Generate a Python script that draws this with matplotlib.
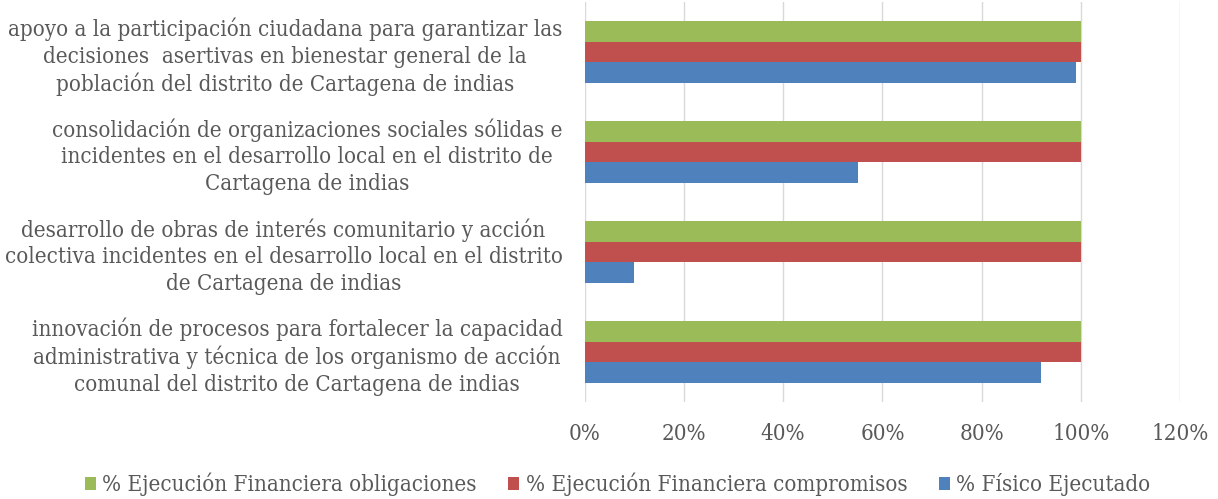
import numpy as np
from matplotlib import pyplot as plt

categorias = [
    "innovación de procesos para fortalecer la capacidad\nadministrativa y técnica de los organismo de acción\ncomunal del distrito de Cartagena de indias",
    "desarrollo de obras de interés comunitario y acción\ncolectiva incidentes en el desarrollo local en el distrito\nde Cartagena de indias",
    "consolidación de organizaciones sociales sólidas e\nincidentes en el desarrollo local en el distrito de\nCartagena de indias",
    "apoyo a la participación ciudadana para garantizar las\ndecisiones  asertivas en bienestar general de la\npoblación del distrito de Cartagena de indias",
]
fisico = [0.92, 0.10, 0.55, 0.99]
compromisos = [1.0, 1.0, 1.0, 1.0]
obligaciones = [1.0, 1.0, 1.0, 1.0]
xticks = [0, 0.2, 0.4, 0.6, 0.8, 1.0, 1.2]
xlabels = ["0%", "20%", "40%", "60%", "80%", "100%", "120%"]

plt.rcParams['font.family'] = ['DejaVu Serif']
plt.rcParams['font.stretch'] = 'condensed'
texto = '#595959'

fig = plt.figure(figsize=(12.18, 4.99), dpi=100)
ax = fig.add_axes([0.480, 0.194, 0.489, 0.802])

y = np.arange(len(categorias))
h = 0.205
ax.barh(y + h, obligaciones, h, color='#9BBB59', label='% Ejecución Financiera obligaciones')
ax.barh(y, compromisos, h, color='#C0504D', label='% Ejecución Financiera compromisos')
ax.barh(y - h, fisico, h, color='#4F81BD', label='% Físico Ejecutado')

ax.set_xlim(0, 1.2)
ax.set_ylim(-0.5, 3.5)
ax.set_xticks(xticks)
ax.set_xticklabels(xlabels)
ax.set_yticks(y)
ax.set_yticklabels(categorias)
for t in ax.get_yticklabels():
    t.set_multialignment('center')
    t.set_linespacing(1.25)
ax.tick_params(axis='both', length=0, labelsize=16, colors=texto)
ax.tick_params(axis='x', pad=15)
ax.tick_params(axis='y', pad=16)
ax.grid(axis='x', color='#D9D9D9', linewidth=1)
ax.set_axisbelow(True)
for s in ax.spines.values():
    s.set_visible(False)

fig.legend(loc='lower center', bbox_to_anchor=(0.507, -0.035), ncol=3, frameon=False,
           fontsize=16, labelcolor=texto, handlelength=0.5, handleheight=0.5,
           handletextpad=0.3, columnspacing=1.4)

fig.savefig('out.png', dpi=100)
